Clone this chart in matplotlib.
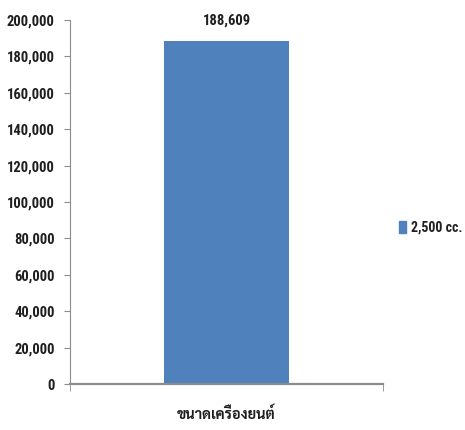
import matplotlib
matplotlib.use("Agg")
import matplotlib.pyplot as plt
from matplotlib.ticker import FuncFormatter, FixedLocator
from matplotlib.patches import Patch
from matplotlib.font_manager import FontProperties

categories = ["ขนาดเครื่องยนต์"]
series_name = "2,500 cc."
values = [188609]
y_ticks = [0, 20000, 40000, 60000, 80000, 100000, 120000, 140000, 160000, 180000, 200000]

narrow = ["Roboto Condensed", "PT Sans Narrow", "Archivo Narrow", "DejaVu Sans"]
latin = FontProperties(family=narrow, weight="bold", size=10.5)
legend_font = FontProperties(family=narrow, weight="bold", size=10)
thai = FontProperties(family=["Sarabun", "Noto Sans Thai", "DejaVu Sans"], weight="bold", size=10.5)

fig = plt.figure(figsize=(4.65, 4.30), dpi=100)
ax = fig.add_axes([70 / 465, 1 - 384 / 430, 313 / 465, 364 / 430])

bar_color = "#4F81BD"
axis_color = "#8C8C8C"
text_color = "#1F1F1F"
ax.bar(range(len(values)), values, width=0.4, color=bar_color, zorder=2)

for i, v in enumerate(values):
    ax.text(i, v + 7000, f"{v:,}", ha="center", va="bottom", fontproperties=latin,
            color=text_color)

ax.set_xlim(-0.5, len(values) - 0.5)
ax.set_ylim(0, 200000)
ax.set_yticks(y_ticks)
ax.yaxis.set_major_formatter(FuncFormatter(lambda v, p: f"{int(v):,}"))
ax.set_xticks(range(len(categories)))
ax.set_xticklabels(categories)
ax.xaxis.set_minor_locator(FixedLocator([-0.5, len(values) - 0.5]))
ax.tick_params(axis="x", which="major", length=0, pad=16)
ax.tick_params(axis="x", which="minor", length=5, color=axis_color, direction="out")
ax.tick_params(axis="y", length=4, color=axis_color, pad=7)

for lbl in ax.get_yticklabels():
    lbl.set_fontproperties(latin)
    lbl.set_color(text_color)
for lbl in ax.get_xticklabels():
    lbl.set_fontproperties(thai)
    lbl.set_color(text_color)

for s in ["top", "right"]:
    ax.spines[s].set_visible(False)
ax.spines["left"].set_color(axis_color)
ax.spines["bottom"].set_color(axis_color)
ax.spines["bottom"].set_linewidth(1.6)

handles = [Patch(color=bar_color, label=series_name)]
leg = fig.legend(handles=handles, loc="center left", bbox_to_anchor=(398 / 465, 1 - 228 / 430),
                 frameon=False, handlelength=0.5, handleheight=0.9, handletextpad=0.35,
                 borderpad=0.1, borderaxespad=0.0, prop=legend_font)
for t in leg.get_texts():
    t.set_color(text_color)

fig.savefig("out.png", dpi=100, facecolor="white")
